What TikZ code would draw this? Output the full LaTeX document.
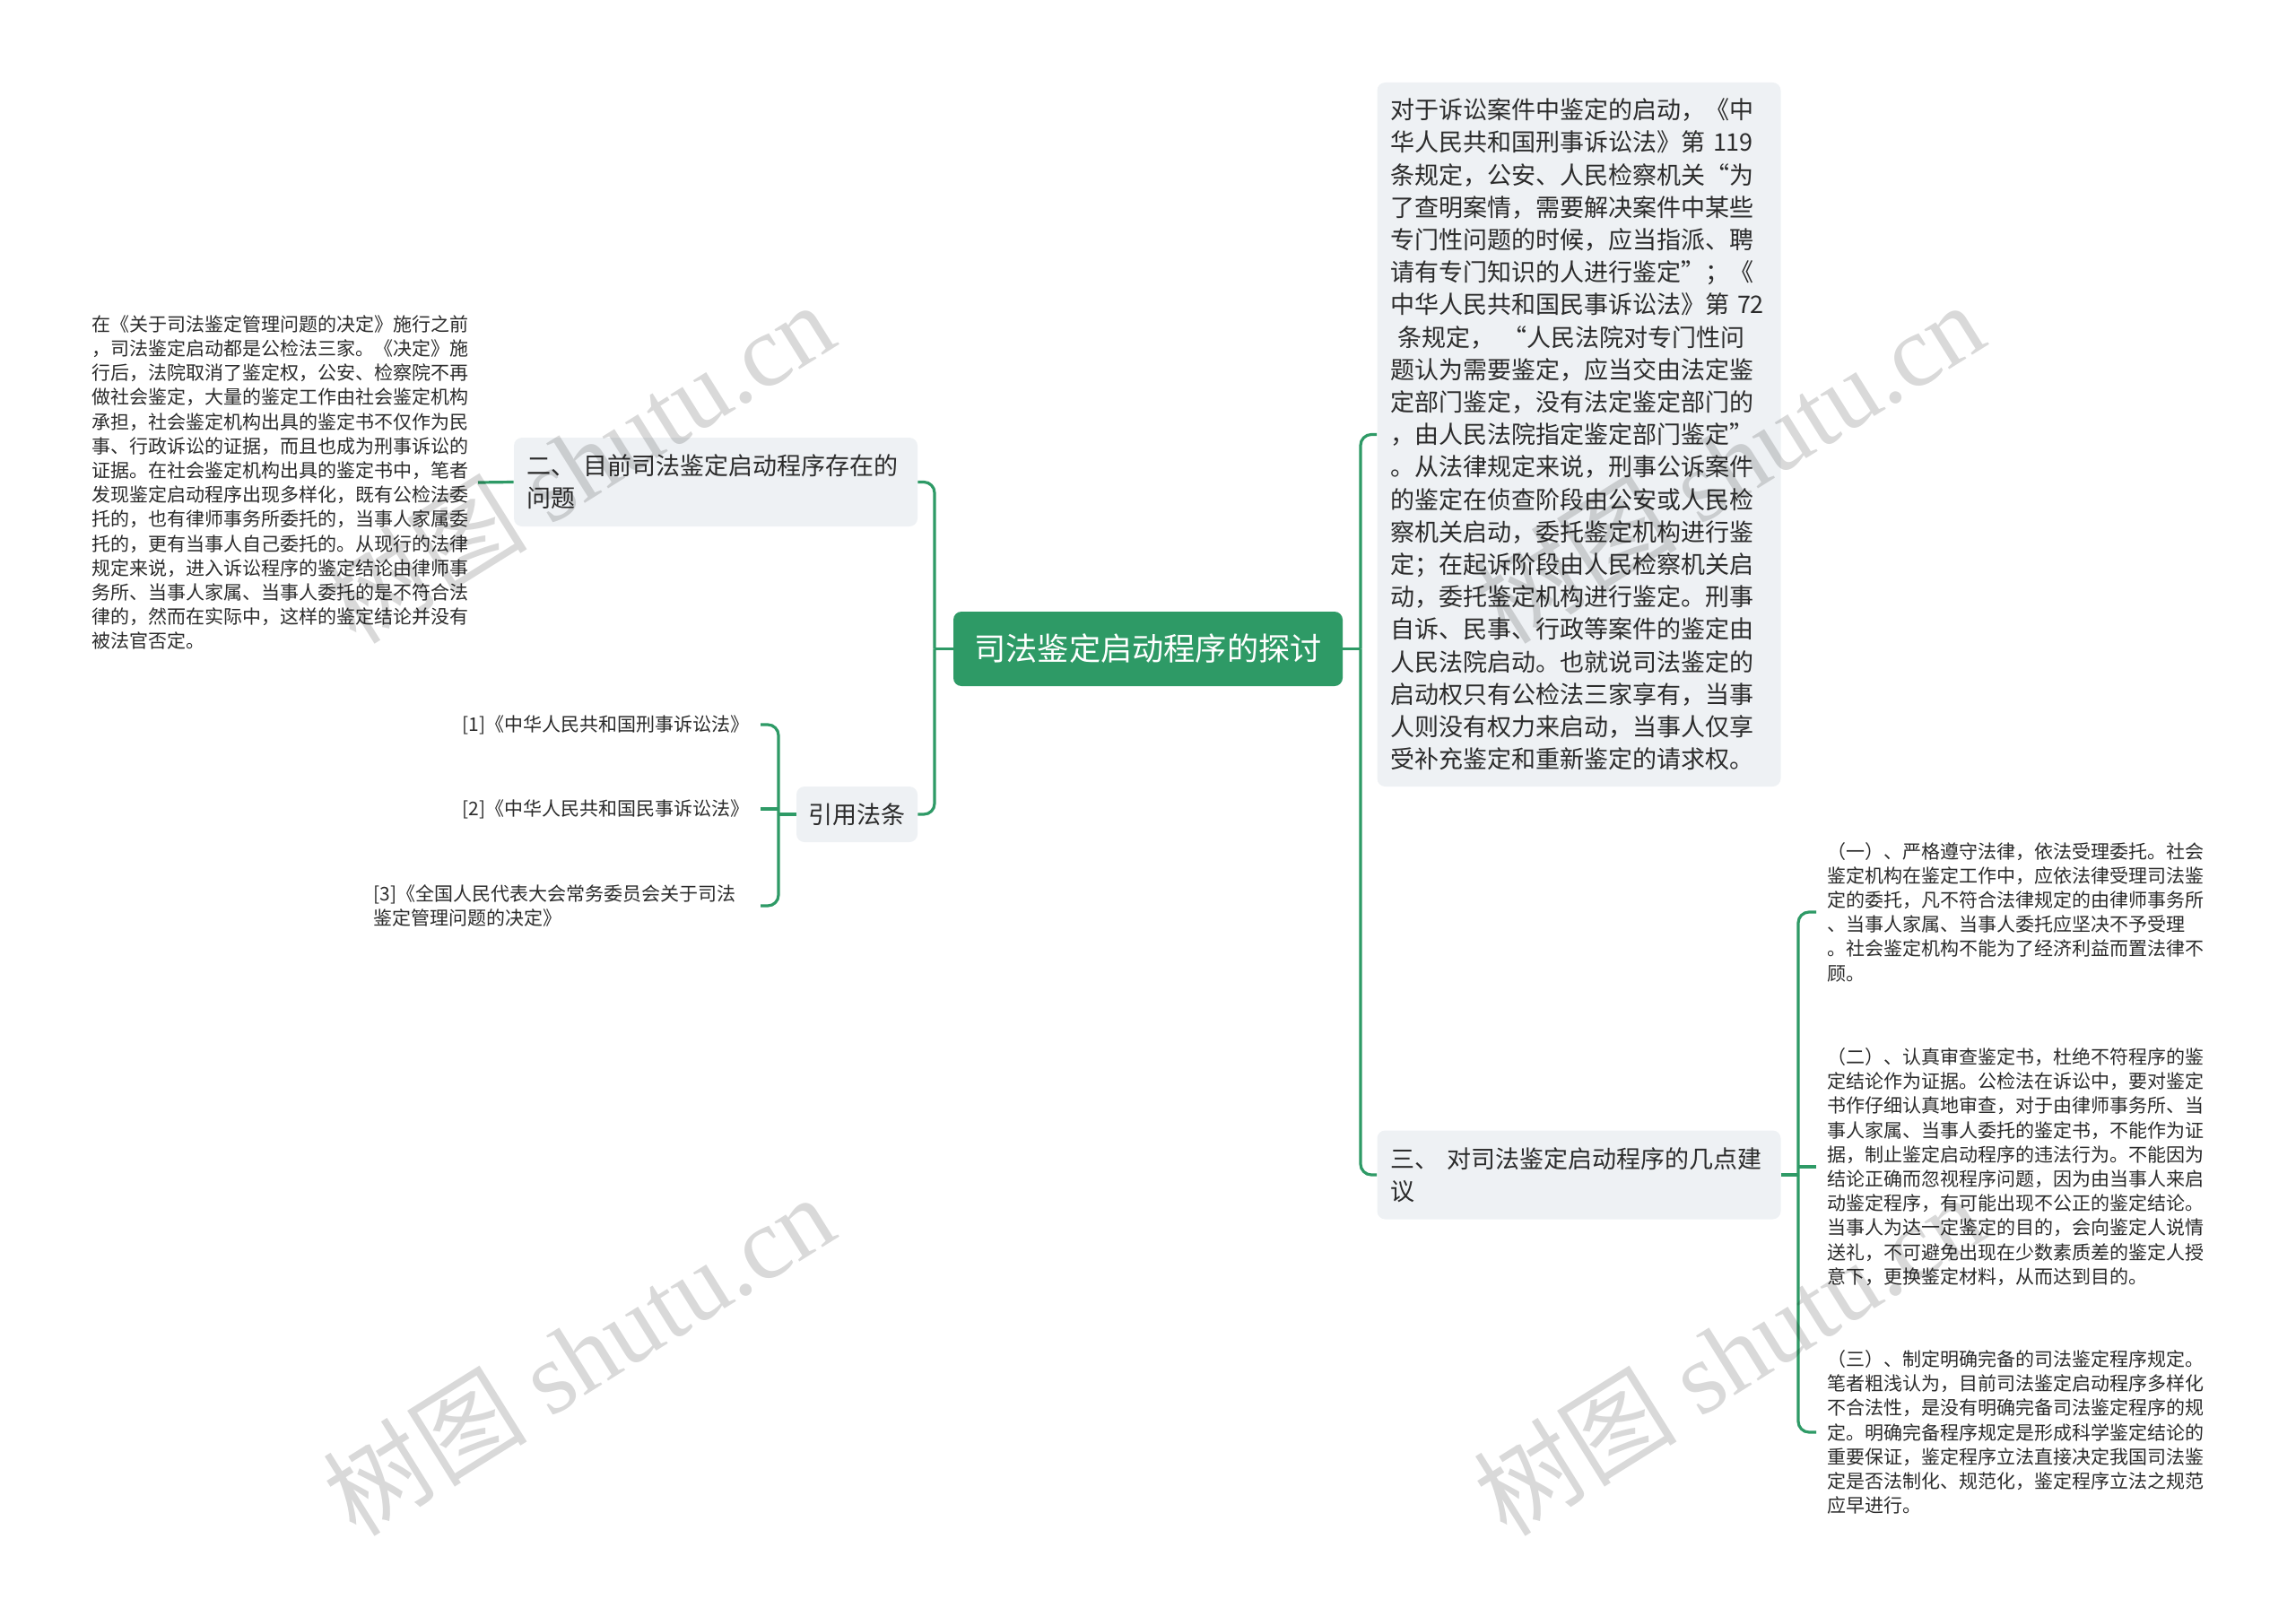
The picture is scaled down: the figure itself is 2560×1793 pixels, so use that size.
\documentclass[tikz,border=0pt]{standalone}
\usepackage{fontspec}
\setmainfont{Noto Sans CJK SC}
\newfontfamily\wmfont{Liberation Serif}
\usetikzlibrary{calc}
\definecolor{mgreen}{HTML}{2E9A66}
\definecolor{boxgray}{HTML}{EEF1F4}
\definecolor{txt}{HTML}{2B2B2B}
\begin{document}
\begin{tikzpicture}[x=0.5pt,y=-0.5pt,
  conn/.style={draw=mgreen,line width=1.6pt,rounded corners=6pt},
  rootbox/.style={fill=mgreen,rounded corners=4.5pt,text=white,font=\fontsize{17.6}{22}\selectfont,minimum width=217pt,minimum height=41.5pt,inner sep=0pt},
  mainbox/.style={fill=boxgray,rounded corners=4.5pt,text=txt,font=\fontsize{13.5}{18.1}\selectfont,align=left,text width=210.5pt,inner xsep=7.25pt,inner ysep=0pt},
  citebox/.style={fill=boxgray,rounded corners=4.5pt,text=txt,font=\fontsize{13.5}{18.1}\selectfont,minimum width=67.5pt,minimum height=31pt,inner sep=0pt},
  leaf/.style={text=txt,font=\fontsize{10.5}{13.6}\selectfont,align=left,inner ysep=0pt},
  wmark/.style={rotate=32,text=black,text opacity=0.15,font=\fontsize{57}{64}\selectfont,inner sep=0pt}
]
\useasboundingbox (0,0) rectangle (2560,1793);

% central topic
\node[rootbox] (root) at (1280,723.5) {司法鉴定启动程序的探讨};

% left main topics
\node[mainbox,minimum height=49.5pt] (b1) at (798,537.5) {二、~目前司法鉴定启动程序存在的\\问题};
\node[citebox] (cite) at (955.5,908) {引用法条};

% right main topics
\node[mainbox,minimum height=392.5pt] (rb1) at (1760.5,484.5) {对于诉讼案件中鉴定的启动，《中\\
华人民共和国刑事诉讼法》第~119\\
条规定，公安、人民检察机关“为\\
了查明案情，需要解决案件中某些\\
专门性问题的时候，应当指派、聘\\
请有专门知识的人进行鉴定”；《\\
中华人民共和国民事诉讼法》第~72\\
\hspace*{4pt}条规定，~“人民法院对专门性问\\
题认为需要鉴定，应当交由法定鉴\\
定部门鉴定，没有法定鉴定部门的\\
，由人民法院指定鉴定部门鉴定”\\
。从法律规定来说，刑事公诉案件\\
的鉴定在侦查阶段由公安或人民检\\
察机关启动，委托鉴定机构进行鉴\\
定；在起诉阶段由人民检察机关启\\
动，委托鉴定机构进行鉴定。刑事\\
自诉、民事、行政等案件的鉴定由\\
人民法院启动。也就说司法鉴定的\\
启动权只有公检法三家享有，当事\\
人则没有权力来启动，当事人仅享\\
受补充鉴定和重新鉴定的请求权。};
\node[mainbox,minimum height=49.5pt] (rb2) at (1760.5,1310) {三、~对司法鉴定启动程序的几点建\\议};

% leaves
\node[leaf,anchor=east,inner xsep=5pt] (p) at (533,538) {在《关于司法鉴定管理问题的决定》施行之前\\
，司法鉴定启动都是公检法三家。《决定》施\\
行后，法院取消了鉴定权，公安、检察院不再\\
做社会鉴定，大量的鉴定工作由社会鉴定机构\\
承担，社会鉴定机构出具的鉴定书不仅作为民\\
事、行政诉讼的证据，而且也成为刑事诉讼的\\
证据。在社会鉴定机构出具的鉴定书中，笔者\\
发现鉴定启动程序出现多样化，既有公检法委\\
托的，也有律师事务所委托的，当事人家属委\\
托的，更有当事人自己委托的。从现行的法律\\
规定来说，进入诉讼程序的鉴定结论由律师事\\
务所、当事人家属、当事人委托的是不符合法\\
律的，然而在实际中，这样的鉴定结论并没有\\
被法官否定。};

\node[leaf,anchor=east,inner xsep=6pt] (c1) at (848,808) {[1]《中华人民共和国刑事诉讼法》};
\node[leaf,anchor=east,inner xsep=6pt] (c2) at (848,902) {[2]《中华人民共和国民事诉讼法》};
\node[leaf,anchor=east,inner xsep=13.5pt] (c3) at (848,1010) {[3]《全国人民代表大会常务委员会关于司法\\鉴定管理问题的决定》};

\node[leaf,anchor=west,inner xsep=6pt] (s1) at (2025,1017) {（一）、严格遵守法律，依法受理委托。社会\\
鉴定机构在鉴定工作中，应依法律受理司法鉴\\
定的委托，凡不符合法律规定的由律师事务所\\
、当事人家属、当事人委托应坚决不予受理\\
。社会鉴定机构不能为了经济利益而置法律不\\
顾。};
\node[leaf,anchor=west,inner xsep=6pt] (s2) at (2025,1301) {（二）、认真审查鉴定书，杜绝不符程序的鉴\\
定结论作为证据。公检法在诉讼中，要对鉴定\\
书作仔细认真地审查，对于由律师事务所、当\\
事人家属、当事人委托的鉴定书，不能作为证\\
据，制止鉴定启动程序的违法行为。不能因为\\
结论正确而忽视程序问题，因为由当事人来启\\
动鉴定程序，有可能出现不公正的鉴定结论。\\
当事人为达一定鉴定的目的，会向鉴定人说情\\
送礼，不可避免出现在少数素质差的鉴定人授\\
意下，更换鉴定材料，从而达到目的。};
\node[leaf,anchor=west,inner xsep=6pt] (s3) at (2025,1597) {（三）、制定明确完备的司法鉴定程序规定。\\
笔者粗浅认为，目前司法鉴定启动程序多样化\\
不合法性，是没有明确完备司法鉴定程序的规\\
定。明确完备程序规定是形成科学鉴定结论的\\
重要保证，鉴定程序立法直接决定我国司法鉴\\
定是否法制化、规范化，鉴定程序立法之规范\\
应早进行。};

% junctions
\coordinate (jl) at (1042,723.5);
\coordinate (jr) at (1517,723.5);
\coordinate (jc) at (868,908);
\coordinate (js) at (2005,1310);

% connectors
\draw[conn] (root.west) -- (jl);
\draw[conn] (b1.east) -| (jl);
\draw[conn] (cite.east) -| (jl);
\draw[conn] (root.east) -- (jr);
\draw[conn] (rb1.west) -| (jr);
\draw[conn] (rb2.west) -| (jr);
\draw[conn] (p.east) -- (b1.west);
\draw[conn] (cite.west) -- (jc);
\draw[conn] (c1.east) -| (jc);
\draw[conn] (c2.east) -- (c2.east -| jc);
\draw[conn] (c3.east) -| (jc);
\draw[conn] (rb2.east) -- (js);
\draw[conn] (s1.west) -| (js);
\draw[conn] (s2.west) -- (s2.west -| js);
\draw[conn] (s3.west) -| (js);

% watermarks
\node[wmark] (wm1) at (645,515) {树图~{\wmfont shutu.cn}};
\node[wmark] (wm2) at (645,1510) {树图~{\wmfont shutu.cn}};
\node[wmark] (wm3) at (1927,515) {树图~{\wmfont shutu.cn}};
\node[wmark] (wm4) at (1927,1510) {树图~{\wmfont shutu.cn}};
\end{tikzpicture}
\end{document}
